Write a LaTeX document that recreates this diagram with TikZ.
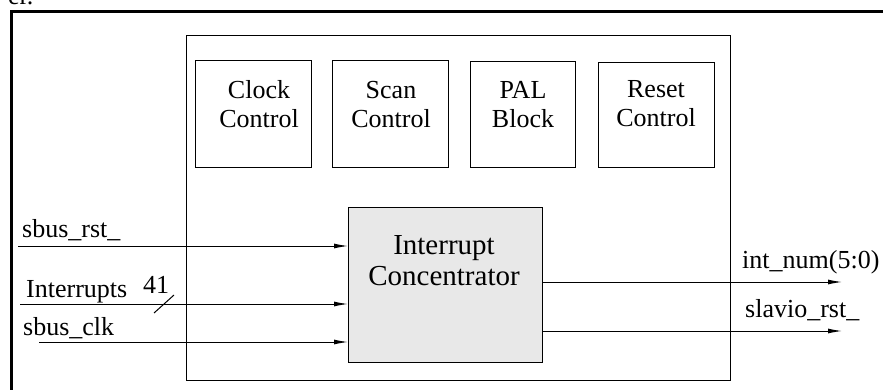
\documentclass[tikz,border=0pt]{standalone}
\usepackage{fontspec}
\setmainfont{Liberation Serif}
\usepackage{xcolor}
\usepackage{tikz}
\usetikzlibrary{arrows.meta, positioning, calc}

\tikzset{
    blok/.style={draw, line width=1.1pt, anchor=north west, inner sep=0pt},
    blokText/.style={align=center, anchor=north, inner sep=0pt, font=\fontsize{26}{29}\selectfont},
    sig/.style={line width=1pt, -{Latex[length=14pt, width=5pt]}},
    sigLabel/.style={anchor=base west, inner sep=0pt, font=\fontsize{26}{29}\selectfont}
}

\begin{document}
\begin{tikzpicture}[x=1pt, y=-1pt]
                    \useasboundingbox (0,0) rectangle (883,390);
                    \clip (0,0) rectangle (883,390);

                    \node[sigLabel] (Resto) at (8,5) {er.};
                    \draw[line width=3.3pt] (11.7,400) |- (900,11.7);

                    \node[blok, minimum width=544pt, minimum height=345pt] (Chip) at (186,35) {};

                    \node[blok, minimum width=116pt, minimum height=107pt] (Clock) at (195,60) {};
                    \node[blok, minimum width=116pt, minimum height=107pt] (Scan) at (332,60) {};
                    \node[blok, minimum width=105pt, minimum height=106pt] (Pal) at (470,61) {};
                    \node[blok, minimum width=116pt, minimum height=105pt] (Reset) at (598,62) {};
                    \node[blok, fill=gray!18, minimum width=194pt, minimum height=155pt] (Conc) at (348,207) {};

                    \node[blokText] (ClockTesto) at (259,80) {Clock\\Control};
                    \node[blokText] (ScanTesto) at (391,81) {Scan\\Control};
                    \node[blokText] (PalTesto) at (523,81) {PAL\\Block};
                    \node[blokText] (ResetTesto) at (656,80) {Reset\\Control};
                    \node[blokText, font=\fontsize{29}{31}\selectfont] (ConcTesto) at (444,235) {Interrupt\\Concentrator};

                    \coordinate (RstIn) at (18,246);
                    \coordinate (IntIn) at (20,304);
                    \coordinate (ClkIn) at (39,342);
                    \coordinate (NumOut) at (842,282);
                    \coordinate (SlavOut) at (842,331);

                    \draw[sig] (RstIn) -- (Conc.west |- RstIn);
                    \draw[sig] (IntIn) -- (Conc.west |- IntIn);
                    \draw[sig] (ClkIn) -- (Conc.west |- ClkIn);
                    \draw[sig] (Conc.east |- NumOut) -- (NumOut);
                    \draw[sig] (Conc.east |- SlavOut) -- (SlavOut);
                    \draw[line width=1pt] (154,313) -- (174,295);

                    \node[sigLabel] (RstNome) at (22,237) {sbus\_rst\_};
                    \node[sigLabel] (IntNome) at (26,297) {Interrupts};
                    \node[sigLabel] (IntLarg) at (143,293) {41};
                    \node[sigLabel] (ClkNome) at (23,335) {sbus\_clk};
                    \node[sigLabel] (NumNome) at (742,268) {int\_num(5:0)};
                    \node[sigLabel] (SlavNome) at (745,317) {slavio\_rst\_};
                \end{tikzpicture}
\end{document}
